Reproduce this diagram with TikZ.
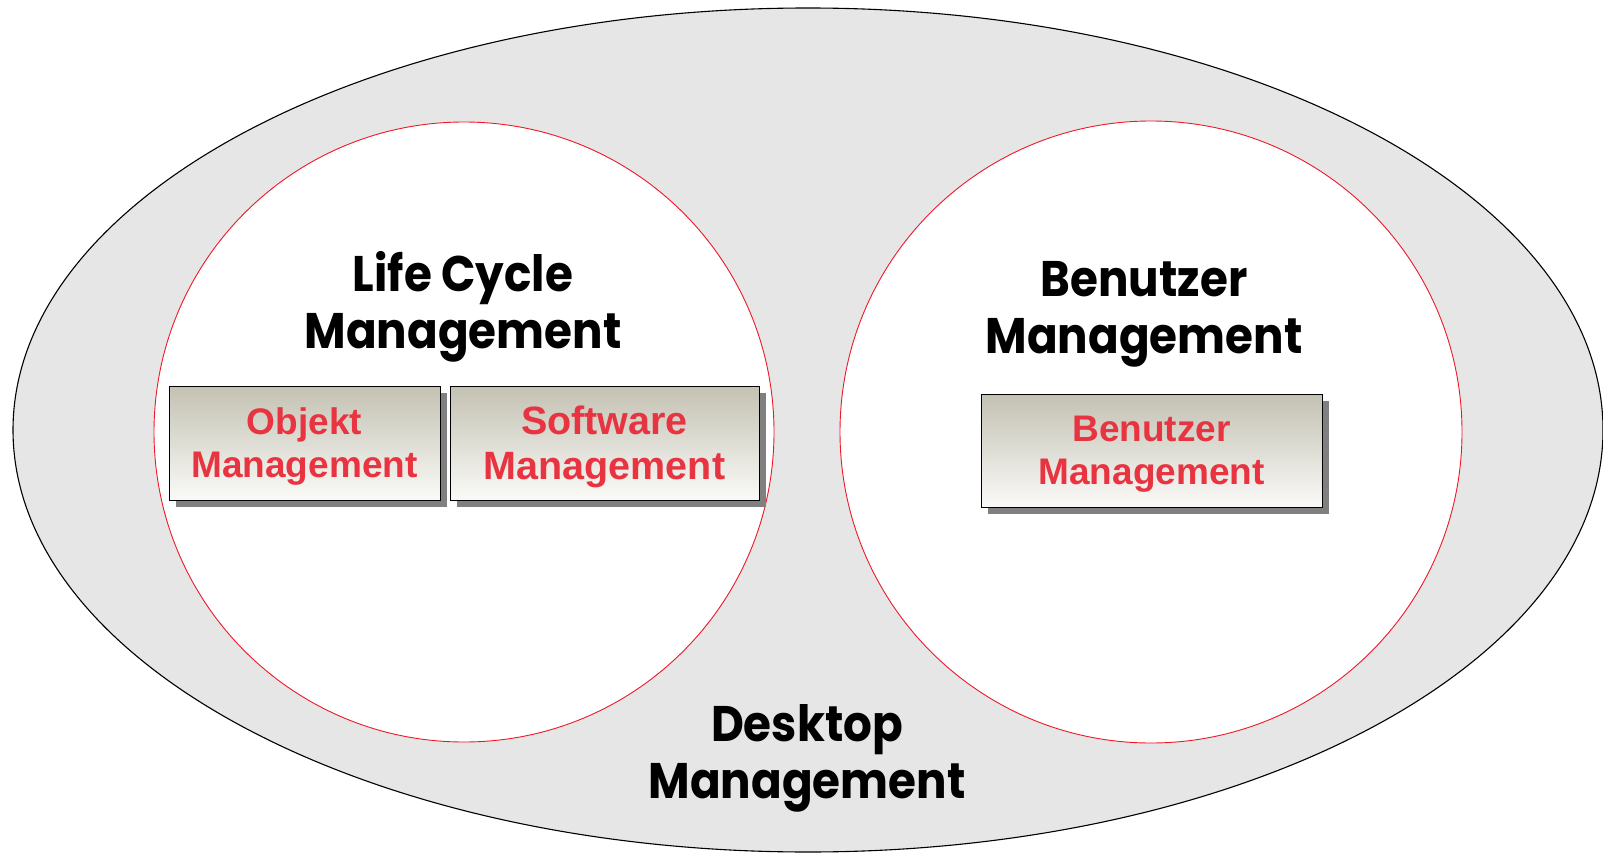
\documentclass[tikz,border=0pt]{standalone}
\usepackage{fontspec}
\setmainfont{Liberation Sans}
\newfontfamily\gothic{Poppins}[FakeStretch=0.905]
\usetikzlibrary{positioning,shadows}
\definecolor{desk}{RGB}{230,230,230}
\definecolor{areared}{RGB}{238,24,40}
\definecolor{boxred}{RGB}{232,52,64}
\definecolor{boxtop}{RGB}{195,193,178}
\definecolor{boxbottom}{RGB}{250,250,248}
\definecolor{boxshadow}{RGB}{128,128,128}

\begin{document}
\begin{tikzpicture}[x=1pt,y=-1pt]
            \tikzset{
                area/.style={circle,draw=areared,fill=white,line width=0.9pt},
                title/.style={font=\gothic\bfseries\fontsize{50}{57}\selectfont,align=center},
                module/.style={draw=black,line width=1pt,top color=boxtop,bottom color=boxbottom,
                    minimum height=114pt,inner sep=0pt,text=boxred,align=center,text depth=0pt,
                    font=\bfseries\fontsize{37}{43}\selectfont,
                    drop shadow={shadow xshift=7pt,shadow yshift=-7pt,fill=boxshadow,opacity=1}},}
            \useasboundingbox (0,0) rectangle (1603,853);
            \draw [fill=desk,line width=1.1pt] (808,430) ellipse [x radius=795,y radius=422];
            \node [area,minimum size=620pt] (lcm) at (464,432) {};
            \node [area,minimum size=622pt] (bm) at (1151,432) {};
            \node [title] (lcmtitle) at (463,307) {Life Cycle\\Management};
            \node [title] (bmtitle) at (1144,314) {Benutzer\\Management};
            \node [title] (dmtitle) at (807,758) {Desktop\\Management};
            \node [module,minimum width=271pt] (obj) at (304.5,443) {Objekt\\Management};
            \node [module,minimum width=309pt,right=9pt of obj,
                font=\bfseries\fontsize{39.5}{45}\selectfont] (sw) {Software\\Management};
            \node [module,minimum width=341pt,minimum height=113pt] (ben) at (1151.5,450.5) {Benutzer\\Management};
            % \draw (obj) -- (sw);
        \end{tikzpicture}
\end{document}
